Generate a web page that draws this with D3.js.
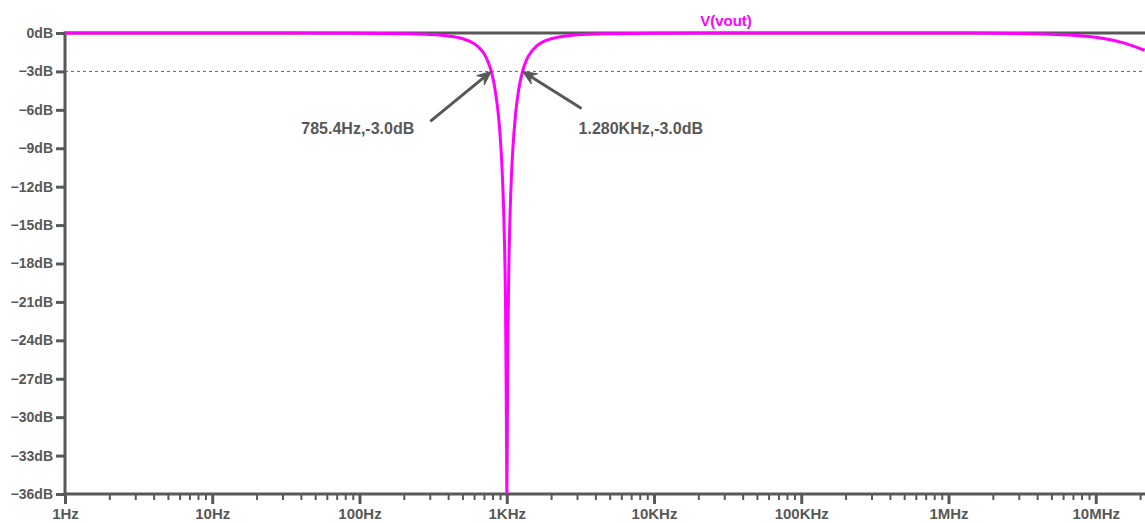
<!DOCTYPE html>
<html>
<head>
<meta charset="utf-8">
<script src="https://cdn.jsdelivr.net/npm/d3@7"></script>
<style>
  html, body { margin: 0; padding: 0; background: #fff; }
  svg { display: block; }
  text { font-family: "Liberation Sans", Arial, sans-serif; font-weight: bold; }
</style>
</head>
<body>
<svg id="chart" width="1145" height="523"></svg>
<script>
// ---- data ----
const freqHz = [1, 10, 100, 200, 300, 400, 500, 600, 650, 700, 750, 785.4, 820, 850, 875, 900, 925, 950, 965, 980, 995, 1002,
                1010, 1020, 1035, 1050, 1075, 1100, 1150, 1200, 1280, 1350, 1400, 1600, 1800, 2000, 2500, 3000, 5000, 10000,
                100000, 1000000, 3000000, 5000000, 10000000, 15000000, 21500000];
const magDb  = [0, 0, -0.01, -0.05, -0.11, -0.23, -0.44, -0.83, -1.15, -1.6, -2.3, -3.0, -3.95, -5.1, -6.28, -7.9, -10.1, -13.4, -16.3, -20.7, -30.2, -36,
                -30.5, -23.2, -17.8, -14.7, -11.3, -9.05, -6.24, -4.56, -3.0, -2.22, -1.83, -1.0, -0.64, -0.45, -0.24, -0.13, -0.05, -0.01,
                0, 0, -0.03, -0.09, -0.34, -0.73, -1.35];
const yTicks = [0, -3, -6, -9, -12, -15, -18, -21, -24, -27, -30, -33, -36];
const xTicks = [1, 10, 100, 1000, 10000, 100000, 1000000, 10000000];
const xTickLabels = ["1Hz", "10Hz", "100Hz", "1KHz", "10KHz", "100KHz", "1MHz", "10MHz"];
const markerFreq = [785.4, 1280];
const markerDb = [-3.0, -3.0];
const markerLabels = ["785.4Hz,-3.0dB", "1.280KHz,-3.0dB"];
const traceName = "V(vout)";

// ---- layout ----
const W = 1145, H = 523;
const plotLeft = 65, plotTop = 33, plotBottom = 494, plotRight = 1145;
const decade = 147.25;
const gray = "#585858";
const magenta = "#ff00ff";

const svg = d3.select("#chart");
svg.append("rect").attr("width", W).attr("height", H).attr("fill", "#fff");

const x = d3.scaleLog().domain([1, 1e7]).range([plotLeft, plotLeft + 7 * decade]);
const y = d3.scaleLinear().domain([0, -36]).range([plotTop, plotBottom]);

// minor ticks
const minor = [];
for (let e = 0; e <= 7; e++) for (let m = 2; m <= 9; m++) {
  const v = m * Math.pow(10, e);
  if (x(v) <= plotRight) minor.push(v);
}

// -3dB dashed reference line
svg.append("line")
  .attr("x1", plotLeft).attr("x2", plotRight)
  .attr("y1", y(-3)).attr("y2", y(-3))
  .attr("stroke", "#666").attr("stroke-width", 1).attr("stroke-dasharray", "3,3");

// frame lines
svg.append("line").attr("x1", plotLeft).attr("x2", plotRight).attr("y1", plotTop).attr("y2", plotTop)
  .attr("stroke", gray).attr("stroke-width", 3);
svg.append("line").attr("x1", plotLeft).attr("x2", plotRight).attr("y1", plotBottom).attr("y2", plotBottom)
  .attr("stroke", gray).attr("stroke-width", 3);
svg.append("line").attr("x1", plotLeft).attr("x2", plotLeft).attr("y1", plotTop - 1.5).attr("y2", plotBottom + 1.5)
  .attr("stroke", gray).attr("stroke-width", 3);

// y axis
const yAxis = svg.append("g").attr("transform", `translate(${plotLeft},0)`)
  .call(d3.axisLeft(y).tickValues(yTicks).tickSize(9).tickPadding(3).tickFormat(d => d3.format("d")(d) + "dB"));
yAxis.select(".domain").remove();
yAxis.selectAll(".tick line").attr("stroke", gray).attr("stroke-width", 3);
yAxis.selectAll(".tick text").attr("fill", gray).style("font-size", "14px").style("font-family", "'Liberation Sans', Arial, sans-serif").style("font-weight", "bold");

// x axis minor
const xMinor = svg.append("g").attr("transform", `translate(0,${plotBottom})`)
  .call(d3.axisBottom(x).tickValues(minor).tickSize(6).tickFormat(""));
xMinor.select(".domain").remove();
xMinor.selectAll(".tick line").attr("stroke", gray).attr("stroke-width", 2);

// x axis major
const xAxis = svg.append("g").attr("transform", `translate(0,${plotBottom})`)
  .call(d3.axisBottom(x).tickValues(xTicks).tickSize(10).tickPadding(4).tickFormat((d, i) => xTickLabels[i]));
xAxis.select(".domain").remove();
xAxis.selectAll(".tick line").attr("stroke", gray).attr("stroke-width", 3);
xAxis.selectAll(".tick text").attr("fill", gray).style("font-size", "15px").style("font-family", "'Liberation Sans', Arial, sans-serif").style("font-weight", "bold");

// clip for trace
svg.append("clipPath").attr("id", "plotclip").append("rect")
  .attr("x", plotLeft).attr("y", plotTop - 3).attr("width", plotRight - plotLeft).attr("height", plotBottom - plotTop + 3);

const pts = freqHz.map((f, i) => [f, magDb[i]]);
const line = d3.line().x(d => x(d[0])).y(d => y(d[1])).curve(d3.curveMonotoneX);
svg.append("path").attr("d", line(pts))
  .attr("clip-path", "url(#plotclip)")
  .attr("fill", "none").attr("stroke", magenta).attr("stroke-width", 3).attr("stroke-linejoin", "round");

// trace name
svg.append("text").attr("x", 726).attr("y", 26).attr("text-anchor", "middle")
  .attr("fill", magenta).style("font-size", "15px").text(traceName);

// markers with arrows
const tails = [[-61, 50], [59, 37]];
const labelPos = [[-190, 63], [56, 63]];
markerFreq.forEach((f, i) => {
  const tx = x(f), ty = y(markerDb[i]);
  const sx = tx + tails[i][0], sy = ty + tails[i][1];
  const ang = Math.atan2(ty - sy, tx - sx);
  const L = 14, Wd = 6;
  const ux = Math.cos(ang), uy = Math.sin(ang);
  const px = -uy, py = ux;
  const bx = tx - ux * L, by = ty - uy * L;
  const nx = tx - ux * L * 0.65, ny = ty - uy * L * 0.65;
  svg.append("line").attr("x1", sx).attr("y1", sy).attr("x2", nx).attr("y2", ny)
    .attr("stroke", gray).attr("stroke-width", 3);
  svg.append("path")
    .attr("d", `M${tx},${ty} L${bx + px * Wd},${by + py * Wd} L${nx},${ny} L${bx - px * Wd},${by - py * Wd} Z`)
    .attr("fill", gray).attr("stroke", gray).attr("stroke-width", 1).attr("stroke-linejoin", "round");
  svg.append("text").attr("x", tx + labelPos[i][0]).attr("y", ty + labelPos[i][1])
    .attr("fill", gray).style("font-size", "16px").text(markerLabels[i]);
});
</script>
</body>
</html>
